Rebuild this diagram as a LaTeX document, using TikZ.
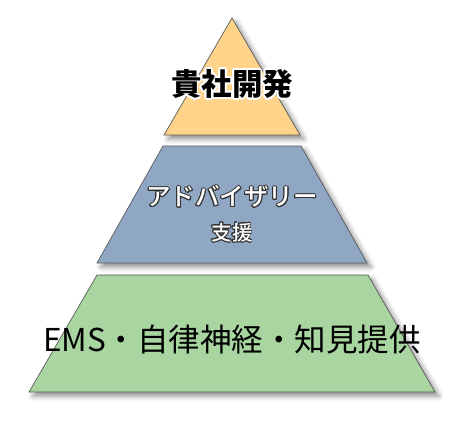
\documentclass[tikz,border=0pt]{standalone}
\usepackage{fontspec}
\newfontfamily\jp{Noto Sans CJK JP}
\newfontfamily\jpm{Noto Sans CJK JP Medium}
\usepackage{contour}
\usetikzlibrary{shadows.blur}
\definecolor{topfill}{RGB}{255,211,137}
\definecolor{midfill}{RGB}{143,167,195}
\definecolor{botfill}{RGB}{168,213,160}
\definecolor{edge}{RGB}{90,90,90}
\definecolor{txtedge}{RGB}{50,50,50}
\tikzset{
  layer/.style={draw=edge, line width=0.7pt,
    blur shadow={shadow xshift=4pt, shadow yshift=-4pt, shadow blur radius=5pt, shadow opacity=45}},
  lbl/.style={align=center, inner sep=0pt}
}
\begin{document}
\begin{tikzpicture}[x=1pt,y=1pt]
\useasboundingbox (0,0) rectangle (466,424);
% top triangle
\path[layer, fill=topfill] (232,406) -- (300,289) -- (164,289) -- cycle;
% middle trapezoid
\path[layer, fill=midfill] (163,278) -- (301,278) -- (367,161) -- (97,161) -- cycle;
% bottom trapezoid
\path[layer, fill=botfill] (97,149) -- (368,149) -- (435,32) -- (29,32) -- cycle;
% labels
\contourlength{1.8pt}
\node[lbl, font=\jp\bfseries\fontsize{30.5}{33}\selectfont] (t1) at (232,339) {\contour{white}{貴社開発}};
\contourlength{0.9pt}
\node[lbl, font=\jpm\fontsize{24.5}{28}\selectfont] (t2) at (232,227) {\contour{txtedge}{\textcolor{white}{アドバイザリー}}};
\node[lbl, font=\jpm\fontsize{20.5}{24}\selectfont] (t3) at (232,191) {\contour{txtedge}{\textcolor{white}{支援}}};
\node[lbl, font=\jp\fontsize{31.5}{34}\selectfont] (t4) at (232,84) {EMS・自律神経・知見提供};
\end{tikzpicture}
\end{document}
